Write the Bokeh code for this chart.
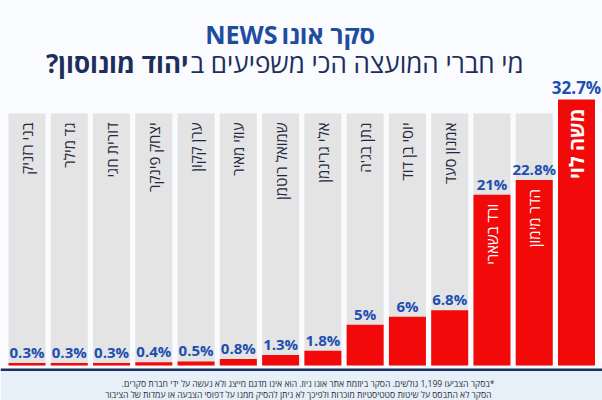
import math
from bokeh.plotting import figure
from bokeh.models import Range1d
from bokeh.embed import file_html
from bokeh.resources import INLINE
from bokeh.core.properties import value

# ---------------- data ----------------
names = ["בני רזניק", "גד מילר", "דורית חגי", "יצחק פינקר", "ערן קקון", "עוזי מאיר",
         "שמואל רוטמן", "אלי גרינמן", "נתן בג'ה", "יוסי בן דוד", "אמנון סעד",
         "ורד בשארי", "הדר מימון", "משה לוי"]
values = [0.3, 0.3, 0.3, 0.4, 0.5, 0.8, 1.3, 1.8, 5, 6, 6.8, 21, 22.8, 32.7]
title_he = "סקר אונו"
title_en = "NEWS"
subtitle_light = "מי חברי המועצה הכי משפיעים ב"
subtitle_bold = "יהוד מונוסון?"
footnote_1 = "*בסקר הצביעו 1,199 גולשים. הסקר ביוזמת אתר אונו ניוז. הוא אינו מדגם מייצג ולא נעשה על ידי חברת סקרים."
footnote_2 = "הסקר לא התבסס על שיטות סטטיסטיות מוכרות ולפיכך לא ניתן להסיק ממנו על דפוסי הצבעה או עמדות של הציבור"

RLM = "\u200F"

# ---------------- layout helpers (pixel -> data) ----------------
W, H = 602, 400
first_c, last_c = 26.5, 576.0          # pixel centres of first / last column
PITCH = (last_c - first_c) / (len(values) - 1)
X0 = 1 - first_c / PITCH
X1 = X0 + W / PITCH
base_px, top_px = 365, 99               # bar base / tallest bar top (pixels from top)
vmax = max(values)
KY = (base_px - top_px) / vmax
Y0 = -(H - base_px) / KY
Y1 = Y0 + H / KY


def dx(px):
    return X0 + px / PITCH


def dy(py):
    return Y1 - py / KY


FONT = value("Open Sans")
NAVY = "#1d2d5c"
BLUE = "#1c4fb0"
RED = "#f20a0a"
GRAY = "#e4e4e4"
BW = 37 / PITCH

p = figure(width=W, height=H, output_backend="svg", toolbar_location=None,
           x_range=Range1d(X0, X1), y_range=Range1d(Y0, Y1),
           min_border=0, min_border_left=0, min_border_right=0,
           min_border_top=0, min_border_bottom=0)
p.axis.visible = False
p.grid.visible = False
p.outline_line_color = None
p.background_fill_color = "#f9fbfe"
p.border_fill_color = "#f9fbfe"

# footer band and rule
p.quad(left=[X0], right=[X1], top=[dy(370.5)], bottom=[Y0], color="#e7eff9", line_color=None)
p.quad(left=[X0], right=[X1], top=[dy(368)], bottom=[dy(370.5)], color="#1b2f63", line_color=None)

xs = list(range(1, len(values) + 1))
gray_top = dy(113)

# background columns
p.vbar(x=xs, top=[gray_top] * len(xs), bottom=0, width=BW, color=GRAY, line_color=None)
# data bars
p.vbar(x=xs, top=values, bottom=0, width=BW, color=RED, line_color=None)

# percentage labels
imax = values.index(vmax)
idx_small = [i for i in range(len(values)) if i != imax]
p.text(x=[xs[i] for i in idx_small], y=[values[i] for i in idx_small],
       text=[f"{values[i]:g}%" for i in idx_small], text_align="center",
       text_baseline="bottom", y_offset=-1, text_font=FONT, text_font_size="15px",
       text_font_style="bold", text_color=BLUE)
p.text(x=[xs[imax]], y=[vmax], text=[f"{vmax:g}%"], text_align="center",
       text_baseline="bottom", y_offset=-1, text_font=FONT,
       text_font_size="17px", text_font_style="bold", text_color=BLUE)

# names (rotated, reading top to bottom)
pad = 9 / KY
inside = [v * KY > 120 for v in values]      # tall bars carry their name inside
out_idx = [i for i in range(len(values)) if not inside[i]]
in_idx = [i for i in range(len(values)) if inside[i] and i != imax]
p.text(x=[xs[i] for i in out_idx], y=[gray_top - pad] * len(out_idx),
       text=[names[i] for i in out_idx], angle=math.pi / 2, text_align="right",
       text_baseline="middle", text_font=FONT, text_font_size="15px", text_color="#1f2840")
p.text(x=[xs[i] for i in in_idx], y=[values[i] - pad for i in in_idx],
       text=[names[i] for i in in_idx], angle=math.pi / 2, text_align="right",
       text_baseline="middle", text_font=FONT, text_font_size="15px", text_color="white")
p.text(x=[xs[imax]], y=[vmax - pad], text=[names[imax]], angle=math.pi / 2, text_align="right",
       text_baseline="middle", text_font=FONT, text_font_size="20px",
       text_font_style="bold", text_color="white")

# title
p.text(x=[dx(281)], y=[dy(33)], text=[title_he], text_align="left", text_baseline="alphabetic",
       text_font=FONT, text_font_size="25px", text_font_style="bold", text_color="#1f4d9e")
p.text(x=[dx(277)], y=[dy(33)], text=[title_en], text_align="right", text_baseline="alphabetic",
       text_font=FONT, text_font_size="25px", text_font_style="bold", text_color="#1f4d9e")
# subtitle
p.text(x=[dx(190)], y=[dy(62)], text=[subtitle_light], text_align="left", text_baseline="alphabetic",
       text_font=FONT, text_font_size="26px", text_font_style="normal", text_color=NAVY)
p.text(x=[dx(188)], y=[dy(62)], text=[subtitle_bold + RLM], text_align="right", text_baseline="alphabetic",
       text_font=FONT, text_font_size="26px", text_font_style="bold", text_color=NAVY)

# footnote
p.text(x=[dx(494)], y=[dy(383)], text=[RLM + footnote_1 + RLM], text_align="right",
       text_baseline="alphabetic", text_font=FONT, text_font_size="8.6px", text_color="#2a2f3a")
p.text(x=[dx(491)], y=[dy(394)], text=[RLM + footnote_2 + RLM], text_align="right",
       text_baseline="alphabetic", text_font=FONT, text_font_size="8.6px", text_color="#2a2f3a")

open("out.html", "w").write(file_html(p, INLINE))
